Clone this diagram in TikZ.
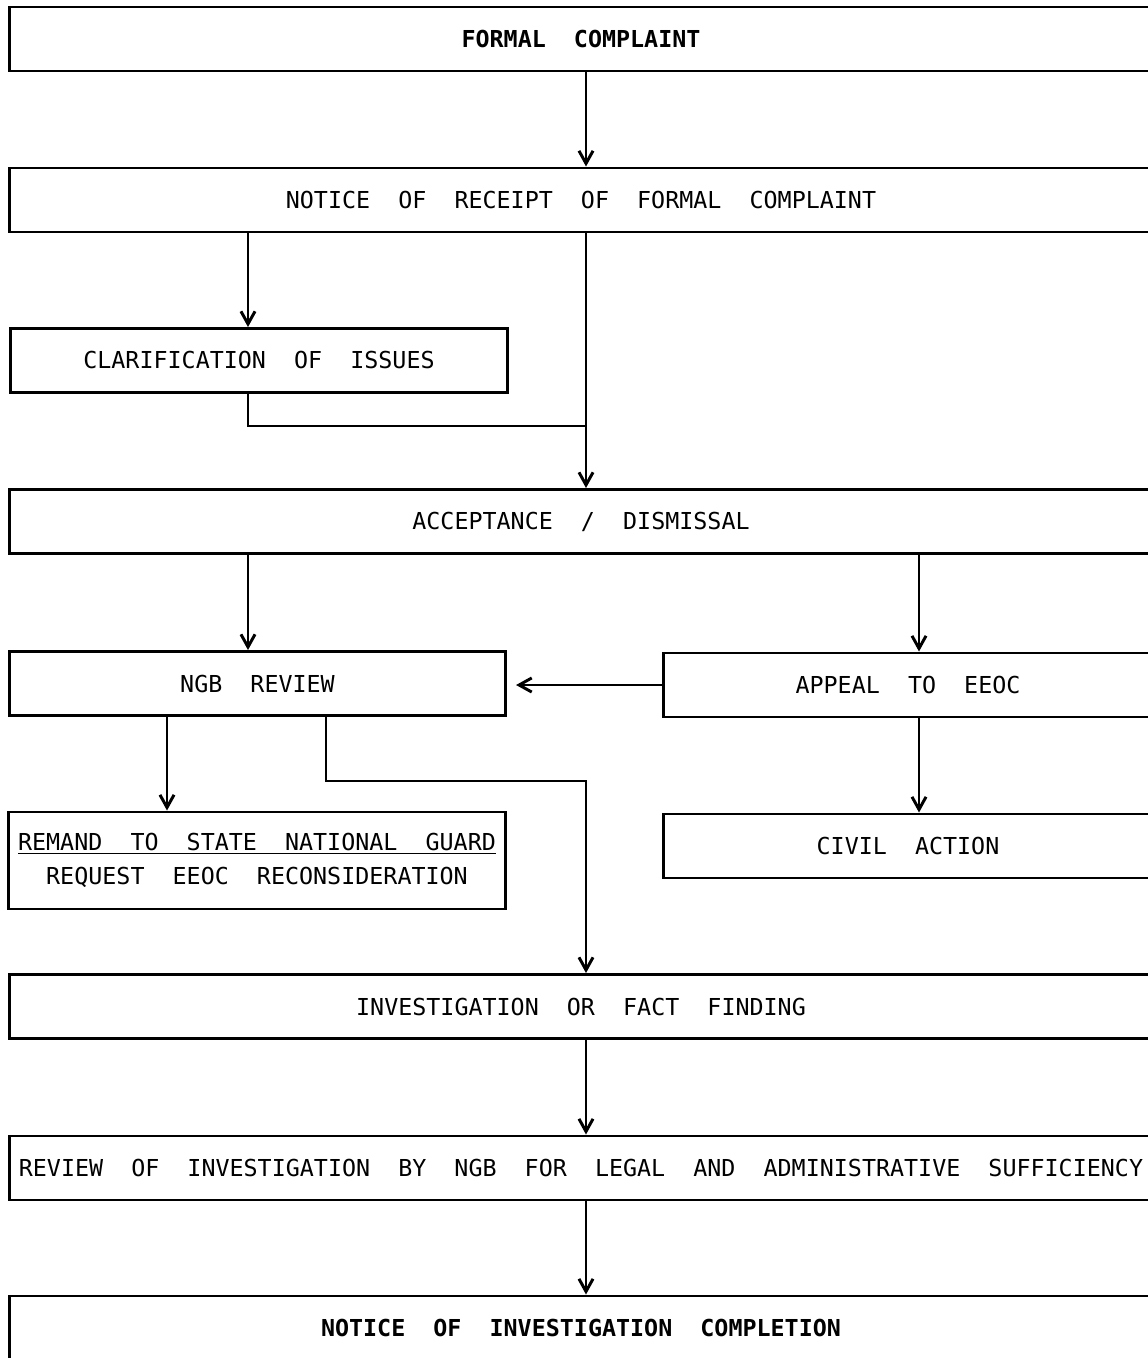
\documentclass[tikz,border=0pt]{standalone}
\usepackage{fontspec}
\setmonofont{DejaVu Sans Mono}
\usetikzlibrary{positioning,arrows.meta,calc}

\begin{document}
\begin{tikzpicture}[
            x=0.025cm, y=-0.025cm,
            line width=2.1pt,
            wide/.style={
                draw=black, minimum width=28.55cm, minimum height=1.6cm, inner sep=0pt, font=\ttfamily\fontsize{16.6}{20}\selectfont, anchor=center
            },
            half/.style={
                draw=black, minimum width=12.4cm, minimum height=1.6cm, inner sep=0pt, font=\ttfamily\fontsize{16.6}{20}\selectfont, anchor=center
            },
            arr/.style={-{Straight Barb[length=9pt,width=10pt]}}
        ]
            \useasboundingbox (0,0) rectangle (1148,1358);
            \clip (0,0) rectangle (1148,1358);

            % KHUNG CHINH
            \node[wide] (formal) at (581,39) {\bfseries FORMAL~~COMPLAINT};
            \node[wide] (receipt) at (581,200) {NOTICE~~OF~~RECEIPT~~OF~~FORMAL~~COMPLAINT};
            \node[half] (clarify) at (259,360.5) {CLARIFICATION~~OF~~ISSUES};
            \node[wide] (accept) at (581,521.5) {ACCEPTANCE~~/~~DISMISSAL};
            \node[half] (ngb) at (257.5,683.5) {NGB~~REVIEW};
            \node[half, minimum width=12.2cm] (appeal) at (908,685) {APPEAL~~TO~~EEOC};
            \node[half, minimum height=2.425cm, align=center] (remand) at (257,860.5)
                {\underline{REMAND~~TO~~STATE~~NATIONAL~~GUARD}\\[4pt]REQUEST~~EEOC~~RECONSIDERATION};
            \node[half, minimum width=12.2cm] (civil) at (908,846) {CIVIL~~ACTION};
            \node[wide] (invest) at (581,1006.5) {INVESTIGATION~~OR~~FACT~~FINDING};
            \node[wide] (review) at (581,1168) {REVIEW~~OF~~INVESTIGATION~~BY~~NGB~~FOR~~LEGAL~~AND~~ADMINISTRATIVE~~SUFFICIENCY};
            \node[wide] (done) at (581,1328) {\bfseries NOTICE~~OF~~INVESTIGATION~~COMPLETION};

            % --- DUONG DOC ---
            \coordinate (trunk) at (586,0);
            \coordinate (lft) at (248,0);
            \coordinate (rgt) at (919,0);
            \coordinate (ngbl) at (167,0);
            \coordinate (ngbr) at (326,0);
            \coordinate (join) at (586,426);
            \coordinate (bend) at (586,781);

            \draw[arr] (formal.south -| trunk) -- (receipt.north -| trunk);
            \draw[arr] (receipt.south -| lft) -- (clarify.north -| lft);
            \draw[arr] (receipt.south -| trunk) -- (accept.north -| trunk);
            \draw (clarify.south -| lft) |- (join);
            \draw[arr] (accept.south -| lft) -- (ngb.north -| lft);
            \draw[arr] (accept.south -| rgt) -- (appeal.north -| rgt);
            % appeal tro ve NGB review
            \draw[arr, shorten >=0.225cm] (appeal.west) -- (appeal.west -| ngb.east);
            \draw[arr] (appeal.south -| rgt) -- (civil.north -| rgt);
            \draw[arr] (ngb.south -| ngbl) -- (remand.north -| ngbl);
            \draw[arr] (ngb.south -| ngbr) |- (bend) -- (invest.north -| bend);
            \draw[arr] (invest.south -| trunk) -- (review.north -| trunk);
            \draw[arr] (review.south -| trunk) -- (done.north -| trunk);

        \end{tikzpicture}
\end{document}
